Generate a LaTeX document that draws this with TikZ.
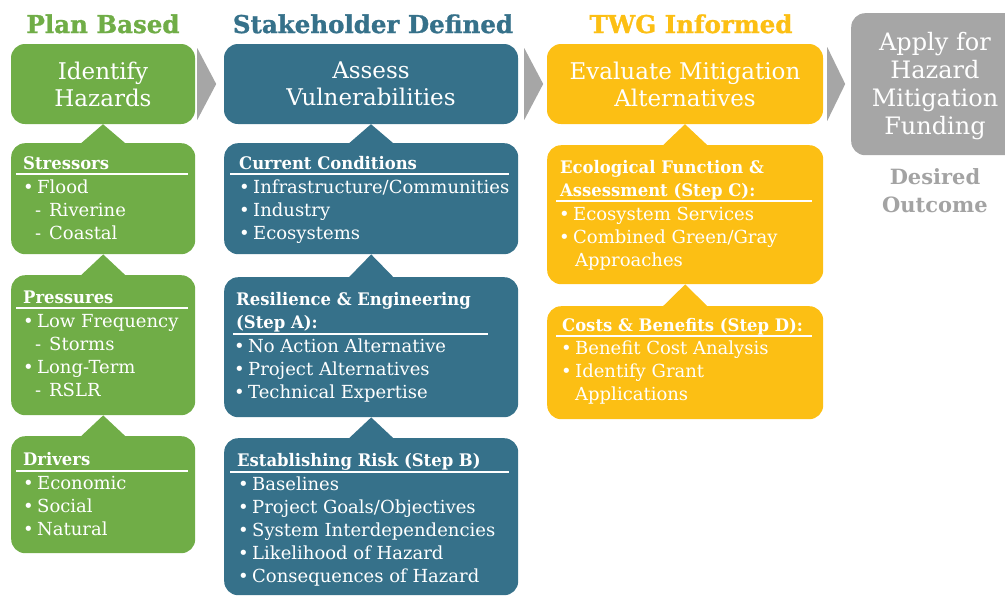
\documentclass[tikz,border=0pt]{standalone}
\usepackage{fontspec}
\setmainfont{DejaVu Serif}
\newfontfamily\heavyfont{DejaVu Serif}[BoldFeatures={FakeBold=1.2}]
\newfontfamily\hdfont{DejaVu Serif}[FakeStretch=0.95]
\definecolor{cgreen}{HTML}{70AD47}
\definecolor{cblue}{HTML}{36718A}
\definecolor{cyellow}{HTML}{FCBF14}
\definecolor{cgray}{HTML}{A6A6A6}
\definecolor{cdes}{HTML}{A3A3A3}
\newcommand{\bul}{\makebox[14pt][l]{•}}
\newcommand{\dsh}{\makebox[14pt][l]{-}}
\tikzset{
  cbox/.style={fill=#1, rounded corners=14pt, inner sep=0pt, text=white},
  toptxt/.style={font=\fontsize{23}{27}\selectfont, align=center},
  hd/.style={font=\hdfont\bfseries\fontsize{17.3}{23}\selectfont, anchor=base west, inner sep=0pt, text=white},
  it/.style={font=\fontsize{18}{23}\selectfont, anchor=base west, inner sep=0pt, text=white},
  rulel/.style={white, line width=1.6pt},
  colhd/.style={font=\heavyfont\bfseries\fontsize{24.5}{30}\selectfont, anchor=base, inner sep=0pt},
  graytxt/.style={font=\fontsize{24}{28}\selectfont, anchor=base, inner sep=0pt, text=white},
  destxt/.style={font=\bfseries\fontsize{21}{27}\selectfont, anchor=base, inner sep=0pt, text=cdes},
  chev/.style={fill=cgray},
}
\begin{document}
\begin{tikzpicture}[x=1pt,y=-1pt]
\useasboundingbox (0,0) rectangle (1005,595);
% column headers
\node[colhd, text=cgreen] (h1) at (103,33) {Plan Based};
\node[colhd, text=cblue] (h2) at (373,33) {Stakeholder Defined};
\node[colhd, text=cyellow] (h3) at (691,33) {TWG Informed};

% ---------- green column ----------
\node[cbox=cgreen, toptxt, minimum width=184pt, minimum height=80pt] (ih) at (103,84) {Identify\\Hazards};
\node[cbox=cgreen, minimum width=184pt, minimum height=111pt, anchor=north west] (st) at (11,143) {};
\node[cbox=cgreen, minimum width=184pt, minimum height=140pt, anchor=north west] (pr) at (11,275) {};
\node[cbox=cgreen, minimum width=184pt, minimum height=117pt, anchor=north west] (dr) at (11,436) {};
\fill[cgreen] ([xshift=-23pt,yshift=-1pt]st.north) -- (ih.south) -- ([xshift=23pt,yshift=-1pt]st.north) -- cycle;
\fill[cgreen] ([xshift=-23pt,yshift=-1pt]pr.north) -- (st.south) -- ([xshift=23pt,yshift=-1pt]pr.north) -- cycle;
\fill[cgreen] ([xshift=-23pt,yshift=-1pt]dr.north) -- (pr.south) -- ([xshift=23pt,yshift=-1pt]dr.north) -- cycle;

\node[hd] (sth) at (23,169) {Stressors};
\draw[rulel] (16,174) -- (188,174);
\node[it] (st1) at (23,193) {\bul Flood};
\node[it] (st2) at (35,216) {\dsh Riverine};
\node[it] (st3) at (35,239) {\dsh Coastal};

\node[hd] (prh) at (23,303) {Pressures};
\draw[rulel] (16,308) -- (188,308);
\node[it] (pr1) at (23,327) {\bul Low Frequency};
\node[it] (pr2) at (35,350) {\dsh Storms};
\node[it] (pr3) at (23,373) {\bul Long-Term};
\node[it] (pr4) at (35,396) {\dsh RSLR};

\node[hd] (drh) at (23,465) {Drivers};
\draw[rulel] (16,471) -- (188,471);
\node[it] (dr1) at (23,489) {\bul Economic};
\node[it] (dr2) at (23,512) {\bul Social};
\node[it] (dr3) at (23,535) {\bul Natural};

% ---------- blue column ----------
\node[cbox=cblue, toptxt, minimum width=294pt, minimum height=80pt] (av) at (371,84) {Assess\\Vulnerabilities};
\node[cbox=cblue, minimum width=294pt, minimum height=111pt, anchor=north west] (cc) at (224,143) {};
\node[cbox=cblue, minimum width=294pt, minimum height=140pt, anchor=north west] (re) at (224,277) {};
\node[cbox=cblue, minimum width=294pt, minimum height=157pt, anchor=north west] (er) at (224,438) {};
\fill[cblue] ([xshift=-23pt,yshift=-1pt]cc.north) -- (av.south) -- ([xshift=23pt,yshift=-1pt]cc.north) -- cycle;
\fill[cblue] ([xshift=-23pt,yshift=-1pt]re.north) -- (cc.south) -- ([xshift=23pt,yshift=-1pt]re.north) -- cycle;
\fill[cblue] ([xshift=-23pt,yshift=-1pt]er.north) -- (re.south) -- ([xshift=23pt,yshift=-1pt]er.north) -- cycle;

\node[hd] (cch) at (239,169) {Current Conditions};
\draw[rulel] (230,174) -- (509,174);
\node[it] (cc1) at (239,193) {\bul Infrastructure/Communities};
\node[it] (cc2) at (239,216) {\bul Industry};
\node[it] (cc3) at (239,239) {\bul Ecosystems};

\node[hd] (reh1) at (236,305) {Resilience \& Engineering};
\node[hd] (reh2) at (236,328) {(Step A):};
\draw[rulel] (233,334) -- (488,334);
\node[it] (re1) at (234,352) {\bul No Action Alternative};
\node[it] (re2) at (234,375) {\bul Project Alternatives};
\node[it] (re3) at (234,398) {\bul Technical Expertise};

\node[hd] (erh) at (237,466) {Establishing Risk (Step B)};
\draw[rulel] (230,472) -- (509,472);
\node[it] (er1) at (238,490) {\bul Baselines};
\node[it] (er2) at (238,513) {\bul Project Goals/Objectives};
\node[it] (er3) at (238,536) {\bul System Interdependencies};
\node[it] (er4) at (238,559) {\bul Likelihood of Hazard};
\node[it] (er5) at (238,582) {\bul Consequences of Hazard};

% ---------- yellow column ----------
\node[cbox=cyellow, toptxt, minimum width=276pt, minimum height=80pt] (ev) at (685,84) {Evaluate Mitigation\\Alternatives};
\node[cbox=cyellow, minimum width=276pt, minimum height=139pt, anchor=north west] (ec) at (547,145) {};
\node[cbox=cyellow, minimum width=276pt, minimum height=113pt, anchor=north west] (co) at (547,306) {};
\fill[cyellow] ([xshift=-23pt,yshift=-1pt]ec.north) -- (ev.south) -- ([xshift=23pt,yshift=-1pt]ec.north) -- cycle;
\fill[cyellow] ([xshift=-23pt,yshift=-1pt]co.north) -- (ec.south) -- ([xshift=23pt,yshift=-1pt]co.north) -- cycle;

\node[hd] (ech1) at (560,173) {Ecological Function \&};
\node[hd] (ech2) at (560,196) {Assessment (Step C):};
\draw[rulel] (556,201) -- (812,201);
\node[it] (ec1) at (559,220) {\bul Ecosystem Services};
\node[it] (ec2) at (559,243) {\bul Combined Green/Gray};
\node[it] (ec3) at (575,266) {Approaches};

\node[hd] (coh) at (562,331) {Costs \& Benefits (Step D):};
\draw[rulel] (556,336) -- (812,336);
\node[it] (co1) at (561,354) {\bul Benefit Cost Analysis};
\node[it] (co2) at (561,377) {\bul Identify Grant};
\node[it] (co3) at (575,400) {Applications};

% ---------- gray column ----------
\node[cbox=cgray, minimum width=175pt, minimum height=142pt, anchor=north west] (ap) at (851,13) {};
\node[graytxt] (ap1) at (935,50) {Apply for};
\node[graytxt] (ap2) at (935,78) {Hazard};
\node[graytxt] (ap3) at (935,106) {Mitigation};
\node[graytxt] (ap4) at (935,134) {Funding};
\node[destxt] (ds1) at (935,184) {Desired};
\node[destxt] (ds2) at (935,212) {Outcome};

% ---------- chevrons ----------
\fill[chev] ([xshift=2pt,yshift=36pt]ih.east) -- ([xshift=21pt]ih.east) -- ([xshift=2pt,yshift=-36pt]ih.east) -- cycle;
\fill[chev] ([xshift=6pt,yshift=36pt]av.east) -- ([xshift=25pt]av.east) -- ([xshift=6pt,yshift=-36pt]av.east) -- cycle;
\fill[chev] ([xshift=4pt,yshift=37pt]ev.east) -- ([xshift=22pt]ev.east) -- ([xshift=4pt,yshift=-37pt]ev.east) -- cycle;
\end{tikzpicture}
\end{document}
